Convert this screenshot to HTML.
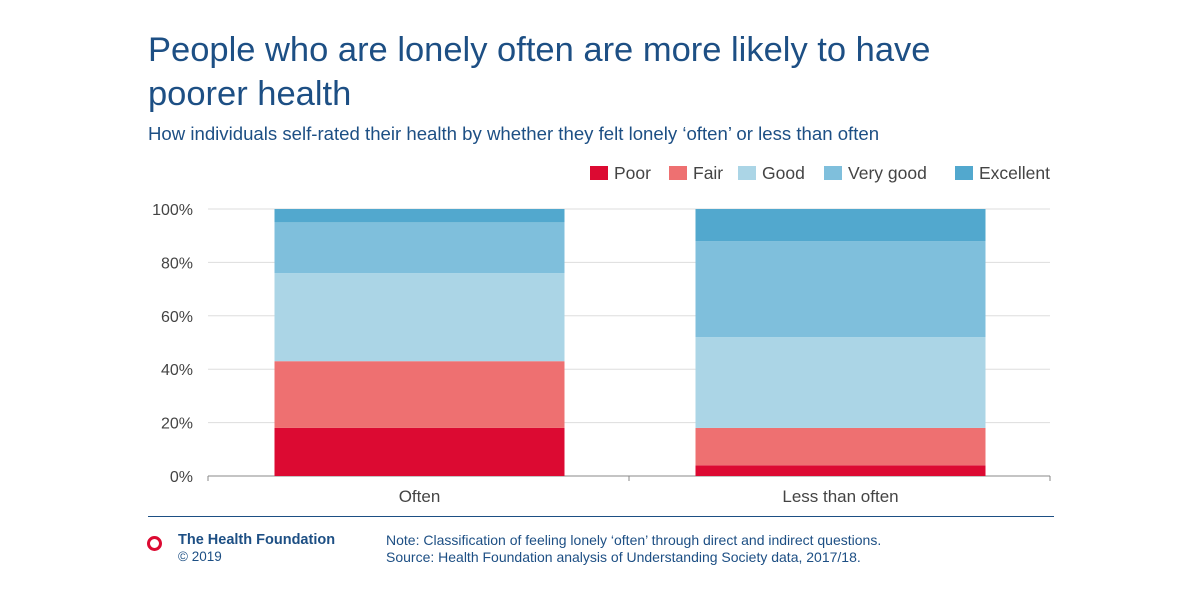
<!DOCTYPE html>
<html><head><meta charset="utf-8"><style>
body{margin:0;width:1200px;height:600px;background:#fff;font-family:"Liberation Sans",sans-serif;overflow:hidden;position:relative}
.t{position:absolute;color:#1d4f84}
</style></head><body>
<div class="t" style="left:148px;top:28px;font-size:34.5px;line-height:44px;width:820px">People who are lonely often are more likely to have poorer health</div>
<div class="t" style="left:148px;top:123px;font-size:18.6px">How individuals self-rated their health by whether they felt lonely ‘often’ or less than often</div>
<svg id="c" width="1200" height="600" style="position:absolute;left:0;top:0"></svg>
<div style="position:absolute;left:148px;top:516px;width:906px;height:1px;background:#1d4f84"></div>
<div style="position:absolute;left:147px;top:536px;width:9px;height:9px;border:3px solid #dc0a32;border-radius:50%"></div>
<div class="t" style="left:178px;top:532px;font-size:14.5px;font-weight:bold">The Health Foundation</div>
<div class="t" style="left:178px;top:549px;font-size:13.5px">© 2019</div>
<div class="t" style="left:386px;top:532px;font-size:14px;line-height:17px">Note: Classification of feeling lonely ‘often’ through direct and indirect questions.<br>Source: Health Foundation analysis of Understanding Society data, 2017/18.</div>
<script>
const categories=["Often","Less than often"];
const seriesNames=["Poor","Fair","Good","Very good","Excellent"];
const poor=[18,4];
const fair=[25,14];
const good=[33,34];
const veryGood=[19,36];
const excellent=[5,12];
const yTicks=[0,20,40,60,80,100];
const colors=["#dc0a32","#ee7071","#abd5e6","#7fbfdc","#52a8ce"];
const series=[poor,fair,good,veryGood,excellent];
const svg=document.getElementById('c'),NS="http://www.w3.org/2000/svg";
const x0=208,x1=1050,yb=476,yt=209;
const y=v=>yb-(v/100)*(yb-yt);
const band=(x1-x0)/categories.length;
const xc=i=>x0+band*(i+0.5);
function mk(t,a){const e=document.createElementNS(NS,t);for(const k in a)e.setAttribute(k,a[k]);svg.appendChild(e);return e;}
yTicks.forEach(v=>{
 const l=mk('line',{x1:x0,x2:x1,y1:y(v),y2:y(v),stroke:v===0?'#888':'#ddd','stroke-width':1});
 
 
 const t=mk('text',{x:193,y:y(v)+6,'text-anchor':'end','font-size':16,fill:'#444'});t.textContent=v+'%';
 
 
});
[x0,x0+band,x1].forEach(xx=>{const l=mk('line',{x1:xx,x2:xx,y1:yb,y2:yb+5,stroke:'#888'});
 
 });
categories.forEach((c,i)=>{
 let cum=0;
 series.forEach((s,j)=>{
  const r=mk('rect',{x:xc(i)-144,width:290,y:y(cum+s[i]),height:y(cum)-y(cum+s[i]),fill:colors[j]});
  
  
  cum+=s[i];
 });
 const t=mk('text',{x:xc(i)+1,y:502,'text-anchor':'middle','font-size':17,fill:'#444'});t.textContent=c;
 
 
});
const lx=[590,669,738,824,955];
seriesNames.forEach((n,j)=>{
 const r=mk('rect',{x:lx[j],y:166,width:18,height:14,fill:colors[j]});
 
 
 const t=mk('text',{x:lx[j]+24,y:179,'font-size':17.5,fill:'#444'});t.textContent=n;
 
 
});
</script>
</body></html>
